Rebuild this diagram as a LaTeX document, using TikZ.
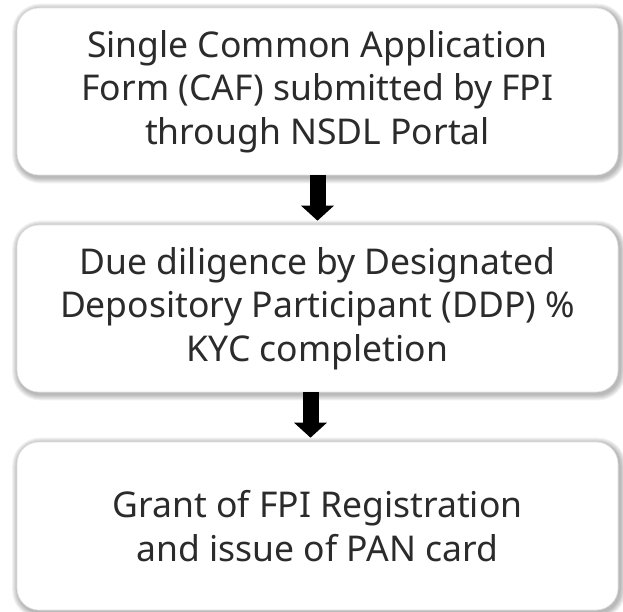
\documentclass[tikz,border=0pt]{standalone}
\usepackage{fontspec}
\setmainfont{Noto Sans}
\usetikzlibrary{arrows.meta}
\definecolor{txt}{HTML}{2B2B2B}
\pgfdeclarelayer{bg}
\pgfsetlayers{bg,main}
\begin{document}
\begin{tikzpicture}[x=1pt,y=-1pt,
  box/.style={rounded corners=22pt, fill=white, draw=black!12, line width=0.6pt,
    minimum width=601pt, minimum height=167pt, inner sep=0pt, align=center,
    text=txt, font=\fontsize{35.5}{43.5}\selectfont},
  arr/.style={draw=black, line width=16pt, -{Triangle[width=32pt,length=15pt]}}]
\useasboundingbox (0,0) rectangle (623,612);
\node[box] (b1) at (317.5,91.5) {Single Common Application\\Form (CAF) submitted by FPI\\through NSDL Portal};
\node[box] (b2) at (317.5,308.5) {Due diligence by Designated\\Depository Participant (DDP) \%\\KYC completion};
\node[box, minimum height=168pt] (b3) at (317.5,526) {Grant of FPI Registration\\and issue of PAN card};
\begin{pgfonlayer}{bg}
\foreach \n in {b1,b2,b3}{
  \foreach \k in {1,...,6}{
    \pgfmathsetmacro{\r}{22+\k}
    \fill[black, opacity=0.05, rounded corners=\r pt]
      ([shift={(-\k+1.5,-\k+2)}]\n.north west) rectangle ([shift={(\k+1.5,\k+2)}]\n.south east);
  }
}
\end{pgfonlayer}
\draw[arr] (b1.south) -- ([yshift=4pt]b2.north);
\draw[arr] ([xshift=-7pt]b2.south) -- ([xshift=-7pt,yshift=4pt]b3.north);
\end{tikzpicture}
\end{document}
